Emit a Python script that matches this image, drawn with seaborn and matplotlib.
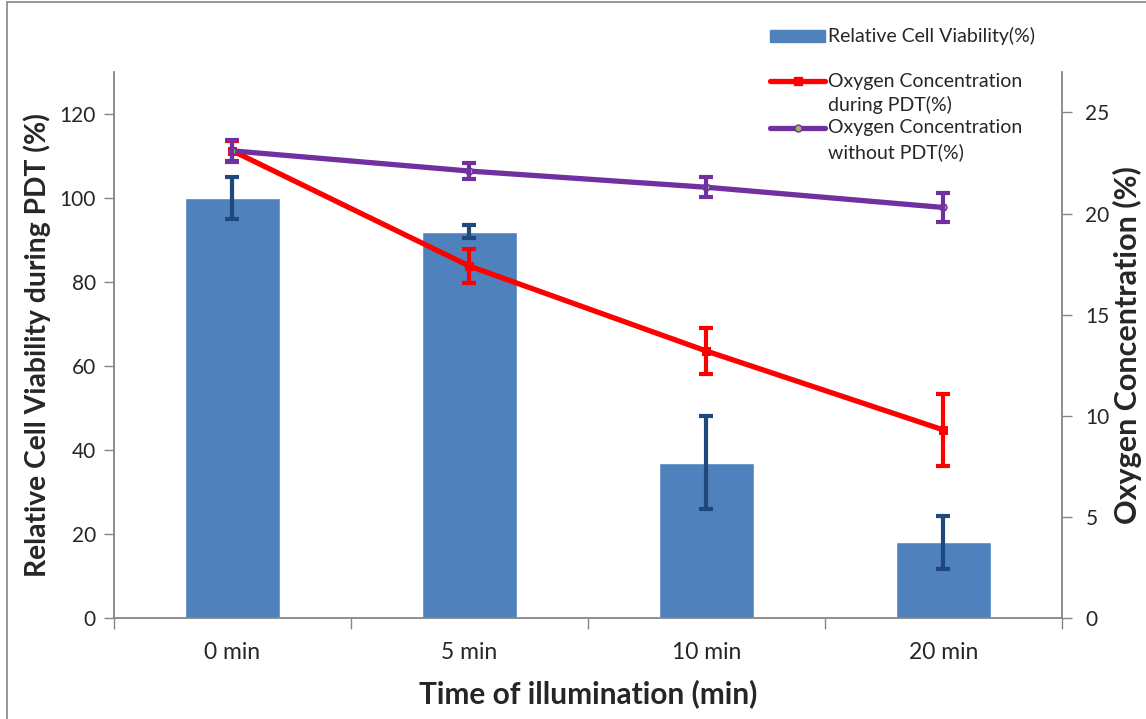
import numpy as np
import pandas as pd
import matplotlib
matplotlib.use("Agg")
import matplotlib.pyplot as plt
from matplotlib.lines import Line2D
from matplotlib.patches import Rectangle
import seaborn as sns

# Illumination times and measurements
times = ["0 min", "5 min", "10 min", "20 min"]
viability = [100, 92, 37, 18]
viability_err = [5, 1.5, 11, 6.3]
oxygen_pdt = [23.1, 17.4, 13.2, 9.3]
oxygen_pdt_err = [0.5, 0.85, 1.15, 1.8]
oxygen_ctrl = [23.1, 22.1, 21.3, 20.3]
oxygen_ctrl_err = [0.55, 0.4, 0.5, 0.7]

left_ticks = [0, 20, 40, 60, 80, 100, 120]
right_ticks = [0, 5, 10, 15, 20, 25]

BAR = "#4F81BD"
BAR_ERR = "#1F497D"
RED = "#FF0000"
PURPLE = "#7030A0"
GREEN = "#9BBB59"
AXIS = "#868686"

sns.set_theme(style="white")
plt.rcParams["font.family"] = ["Lato", "DejaVu Sans"]

W, H = 1146, 719
fig = plt.figure(figsize=(W / 100, H / 100), dpi=100)
ax = fig.add_axes([0.0995, 0.1405, 0.827, 0.7594])

df = pd.DataFrame({"time": times, "viability": viability})
sns.barplot(data=df, x="time", y="viability", color=BAR, width=0.4,
            errorbar=None, ax=ax, saturation=1, zorder=2)
xpos = np.arange(len(times))
ax.errorbar(xpos, viability, yerr=viability_err, fmt="none", ecolor=BAR_ERR,
            elinewidth=3, capsize=5, capthick=3, zorder=3)

ax.set_xlim(-0.5, len(times) - 0.5)
ax.set_ylim(0, 130)
ax.set_yticks(left_ticks)
ax.tick_params(axis="y", direction="out", length=7, width=1, color=AXIS,
               labelsize=15, pad=6, left=True)
ax.set_xticks(xpos)
ax.set_xticklabels(times)
ax.tick_params(axis="x", which="major", length=0, labelsize=16.5, pad=17)
ax.set_xticks(np.arange(-0.5, len(times)), minor=True)
ax.tick_params(axis="x", which="minor", direction="out", length=8, width=1,
               color=AXIS, bottom=True)
ax.set_xlabel("Time of illumination (min)", fontsize=21.5, fontweight="bold",
              labelpad=12)
ax.set_ylabel("Relative Cell Viability during PDT (%)", fontsize=20.3,
              fontweight="bold", labelpad=6)

for side in ["top", "right"]:
    ax.spines[side].set_visible(False)
for side in ["left", "bottom"]:
    ax.spines[side].set_color(AXIS)
    ax.spines[side].set_linewidth(1.3)

ax2 = ax.twinx()
sns.lineplot(x=xpos, y=oxygen_pdt, color=RED, linewidth=3.8, marker="s",
             markersize=6, markeredgecolor=RED, ax=ax2, zorder=4)
ax2.errorbar(xpos, oxygen_pdt, yerr=oxygen_pdt_err, fmt="none", ecolor=RED,
             elinewidth=3, capsize=5, capthick=3, zorder=4)
sns.lineplot(x=xpos, y=oxygen_ctrl, color=PURPLE, linewidth=3.8, marker="o",
             markersize=5, markerfacecolor=GREEN, markeredgecolor=PURPLE,
             markeredgewidth=1, ax=ax2, zorder=5)
ax2.errorbar(xpos, oxygen_ctrl, yerr=oxygen_ctrl_err, fmt="none",
             ecolor=PURPLE, elinewidth=3, capsize=5, capthick=3, zorder=5)

ax2.set_ylim(0, 27)
ax2.set_yticks(right_ticks)
ax2.tick_params(axis="y", direction="out", length=7, width=1, color=AXIS,
                labelsize=15, pad=10, right=True)
ax2.set_ylabel("Oxygen Concentration (%)", fontsize=22, fontweight="bold",
               labelpad=2)
for side in ["top", "left", "bottom"]:
    ax2.spines[side].set_visible(False)
ax2.spines["right"].set_color(AXIS)
ax2.spines["right"].set_linewidth(1.3)
ax2.grid(False)
ax.grid(False)


# Legend keys laid out in pixel units of the figure
def fx(px):
    return px / W


def fy(py):
    return 1 - py / H


leg_font = dict(fontsize=14, va="center", ha="left")
fig.patches.append(Rectangle((fx(770), fy(42)), fx(55), 12 / H,
                             transform=fig.transFigure, facecolor=BAR,
                             edgecolor=BAR))
fig.text(fx(828), fy(36), "Relative Cell Viability(%)", **leg_font)

fig.lines.append(Line2D([fx(770), fx(825)], [fy(81), fy(81)],
                        transform=fig.transFigure, color=RED, linewidth=3.8,
                        solid_capstyle="round"))
fig.lines.append(Line2D([fx(797.5)], [fy(81)], transform=fig.transFigure,
                        color=RED, marker="s", markersize=6))
fig.text(fx(828), fy(81), "Oxygen Concentration", **leg_font)
fig.text(fx(828), fy(105), "during PDT(%)", **leg_font)

fig.lines.append(Line2D([fx(770), fx(825)], [fy(128), fy(128)],
                        transform=fig.transFigure, color=PURPLE,
                        linewidth=3.8, solid_capstyle="round"))
fig.lines.append(Line2D([fx(797.5)], [fy(128)], transform=fig.transFigure,
                        marker="o", markersize=5, markerfacecolor=GREEN,
                        markeredgecolor=PURPLE, markeredgewidth=1))
fig.text(fx(828), fy(128), "Oxygen Concentration", **leg_font)
fig.text(fx(828), fy(152), "without PDT(%)", **leg_font)

# Chart frame
fig.patches.append(Rectangle((0.006, -0.01), 1.2, 1.007, transform=fig.transFigure,
                             fill=False, edgecolor=AXIS, linewidth=1.2))

fig.savefig("out.png", dpi=100)
